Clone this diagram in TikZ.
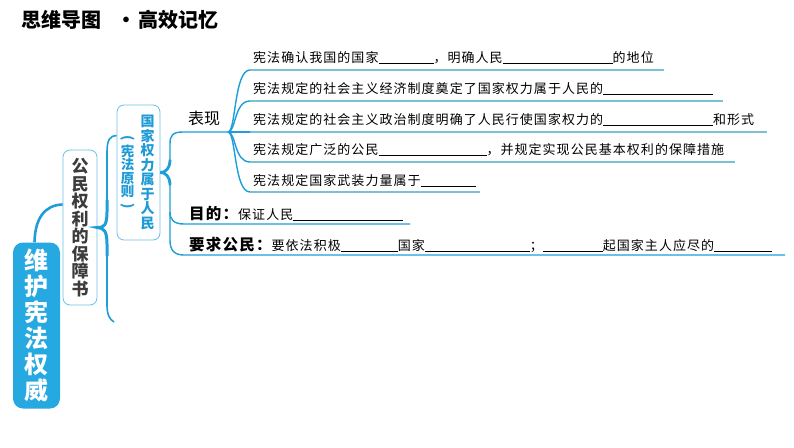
\documentclass[tikz,border=0pt]{standalone}
\usepackage{fontspec}
\setmainfont{Noto Sans CJK SC}
\newfontfamily\itemfont[LetterSpace=8]{Noto Sans CJK SC}
\usepackage{tikz}
\usetikzlibrary{positioning}

\definecolor{rootblue}{RGB}{38,168,224}
\definecolor{branchblue}{RGB}{30,158,216}
\definecolor{lineteal}{RGB}{121,194,211}
\definecolor{boxline}{RGB}{110,190,228}
\definecolor{textgray}{RGB}{60,60,60}
\definecolor{titleblue}{RGB}{30,154,214}

\newcommand{\gapline}[1]{\rule[-1.5pt]{#1pt}{0.6pt}}
\newcommand{\headbold}{\bfseries\fontsize{15.5}{16}\selectfont}
\newcommand{\vparen}[1]{\rotatebox[origin=c]{-90}{#1}}

\begin{document}
\begin{tikzpicture}[
    x=1pt, y=-1pt,
    rootbox/.style={fill=rootblue, rounded corners=10pt, minimum width=47pt, minimum height=166pt, inner sep=0pt, align=center, text=white, font=\fontsize{24}{26}\selectfont\bfseries},
    subbox/.style={draw=boxline, line width=0.8pt, fill=white, rounded corners=7pt, inner sep=0pt},
    coltext/.style={inner sep=0pt, align=center, text=titleblue},
    branch/.style={draw=branchblue, line width=1.4pt},
    underl/.style={draw=lineteal, line width=1.3pt},
    itemtext/.style={anchor=base west, inner sep=0pt, font=\itemfont\fontsize{13}{14}\selectfont},
    headtext/.style={inner sep=0pt, font=\fontsize{16}{17}\selectfont}
]
\useasboundingbox[fill=white] (0,0) rectangle (794,447);

% title
\node[anchor=west, inner sep=0pt, font=\fontsize{20}{21}\selectfont\bfseries] (title) at (21,20) {思维导图\hspace{15pt}·\hspace{2pt}高效记忆};

% main boxes
\node[rootbox] (root) at (36.5,325.5) {维\\护\\宪\\法\\权\\威};
\node[subbox, minimum width=34pt, minimum height=155pt, align=center, text=textgray, font=\fontsize{17}{17.5}\selectfont\bfseries] (duty) at (80,227.5) {公\\民\\权\\利\\的\\保\\障\\书};
\node[subbox, minimum width=43pt, minimum height=135pt] (power) at (138.5,172.5) {};
\node[coltext, font=\fontsize{14}{14.5}\selectfont\bfseries] (powerR) at (147.5,172.5) {国\\家\\权\\力\\属\\于\\人\\民};
\node[coltext, font=\fontsize{13.5}{13.5}\selectfont\bfseries] (powerL) at (127.5,173) {\vparen{(}\\宪\\法\\原\\则\\\vparen{)}};

% second level texts
\node[headtext] (show) at (204,118) {表现};
\node[itemtext] (goal) at (189,219) {{\headbold 目的：}保证人民\gapline{110}};
\node[itemtext] (req) at (189,250) {{\headbold 要求公民：}要依法积极\gapline{57}国家\gapline{105}；\gapline{60}起国家主人应尽的\gapline{58}};

% items under 表现
\node[itemtext] (item1) at (253,62) {宪法确认我国的国家\gapline{55}，明确人民\gapline{110}的地位};
\node[itemtext] (item2) at (253,93) {宪法规定的社会主义经济制度奠定了国家权力属于人民的\gapline{110}};
\node[itemtext] (item3) at (253,124) {宪法规定的社会主义政治制度明确了人民行使国家权力的\gapline{110}和形式};
\node[itemtext] (item4) at (253,154) {宪法规定广泛的公民\gapline{108}，并规定实现公民基本权利的保障措施};
\node[itemtext] (item5) at (253,185) {宪法规定国家武装力量属于\gapline{55}};

% fork points and line ends
\coordinate (fork) at (228,132);
\coordinate (b2end) at (114,322);
\coordinate (goalsplit) at (170,212);
\coordinate (goalend) at (410,224);
\coordinate (reqend) at (785,255);
\coordinate (u1) at (250,70);   \coordinate (u1end) at (664,70);
\coordinate (u2) at (250,101);  \coordinate (u2end) at (723,101);
\coordinate (u3) at (250,132);  \coordinate (u3end) at (767,132);
\coordinate (u4) at (250,162);  \coordinate (u4end) at (735,162);
\coordinate (u5) at (250,192);  \coordinate (u5end) at (480,192);

% root to 公民权利的保障书
\draw[branch, line width=2.6pt] ([xshift=-2pt]root.north) .. controls (35,218) and (45,205) .. ([yshift=23pt]duty.west);

% brace to 国家权力属于人民
\draw[branch, line width=1.6pt] ([yshift=37pt]power.west) .. controls (110,135.5) and (107,140) .. (107,152) -- (107,212) .. controls (107,225) and (104,228) .. (duty.east);
\draw[branch, line width=1.6pt] (duty.east) .. controls (104,228) and (107,231) .. (107,244) -- (107,305) .. controls (107,314) and (109,319) .. (b2end);
\draw[branch, line width=3pt] (107,200) -- (107,212) .. controls (107,225) and (104,228) .. (duty.east) .. controls (104,228) and (107,231) .. (107,244) -- (107,256);

% brace to 表现 / 目的 / 要求公民
\draw[branch] (power.east) .. controls (166,172.5) and (170,168) .. (170,158) -- (170,144) .. controls (170,135) and (173,132) .. (183,132) -- (fork);
\draw[branch] (power.east) .. controls (166,172.5) and (170,177) .. (170,187) -- (170,240) .. controls (170,250) and (174,255) .. (184,255) -- (reqend);
\draw[branch] (goalsplit) .. controls (170,220) and (174,224) .. (184,224) -- (goalend);
\draw[branch, line width=2.8pt] (power.east) .. controls (166,172.5) and (170,168) .. (170,160);
\draw[branch, line width=2.8pt] (power.east) .. controls (166,172.5) and (170,177) .. (170,185);

% branches of 表现
\draw[branch] (fork) .. controls (236,132) and (234,70) .. (u1);
\draw[branch] (fork) .. controls (236,132) and (234,101) .. (u2);
\draw[branch] (fork) -- (u3);
\draw[branch] (fork) .. controls (236,132) and (234,162) .. (u4);
\draw[branch] (fork) .. controls (236,132) and (234,192) .. (u5);
\draw[underl] (u1) -- (u1end);
\draw[underl] (u2) -- (u2end);
\draw[underl] (u3) -- (u3end);
\draw[underl] (u4) -- (u4end);
\draw[underl] (u5) -- (u5end);
\end{tikzpicture}
\end{document}
